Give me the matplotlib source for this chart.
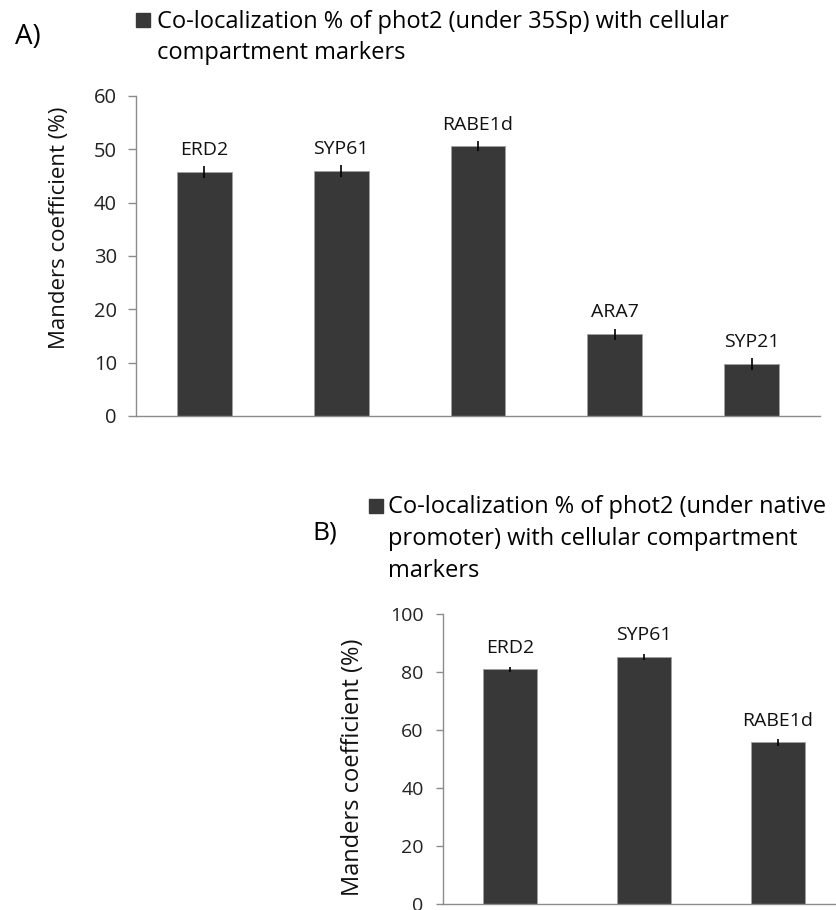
import numpy as np
import matplotlib.pyplot as plt
from matplotlib.patches import Rectangle

# --- data ---
markers_a = ["ERD2", "SYP61", "RABE1d", "ARA7", "SYP21"]
values_a = [45.7, 45.9, 50.6, 15.3, 9.8]
errors_a = [1.1, 1.1, 1.0, 1.1, 1.1]

markers_b = ["ERD2", "SYP61", "RABE1d"]
values_b = [80.9, 85.3, 55.7]
errors_b = [0.9, 1.0, 1.15]

legend_a = ["Co-localization % of phot2 (under 35Sp) with cellular",
            "compartment markers"]
legend_b = ["Co-localization % of phot2 (under native",
            "promoter) with cellular compartment",
            "markers"]

bar_color = "#383838"
axis_color = "#8c8c8c"
W, H = 836, 910

plt.rcParams["font.family"] = ["Open Sans", "DejaVu Sans"]

fig = plt.figure(figsize=(W / 100, H / 100), dpi=100)


def px(x, y):
    # pixel position (from top-left) -> figure fraction
    return x / W, 1 - y / H


def draw_panel(ax, labels, vals, errs, ymax, step, tick_fs, lab_fs, lab_off,
               ylab_fs, ylab_xy, tick_len, tick_pad):
    x = np.arange(len(labels))
    ax.bar(x, vals, width=0.4, color=bar_color, edgecolor="#a0a0a0", linewidth=0.6, zorder=2)
    ax.errorbar(x, vals, yerr=errs, fmt="none", ecolor="black", elinewidth=1.2, capsize=0, zorder=3)
    for xi, v, e, lab in zip(x, vals, errs, labels):
        ax.annotate(lab, (xi, v + e), xytext=(0, lab_off), textcoords="offset points",
                    ha="center", va="baseline", fontsize=lab_fs, color="#111111")
    ax.set_xlim(-0.5, len(labels) - 0.5)
    ax.set_ylim(0, ymax)
    ax.set_yticks(np.arange(0, ymax + 1, step))
    ax.set_xticks([])
    for s in ["top", "right"]:
        ax.spines[s].set_visible(False)
    for s in ["left", "bottom"]:
        ax.spines[s].set_color(axis_color)
        ax.spines[s].set_linewidth(1.0)
    ax.tick_params(axis="y", direction="out", length=tick_len, width=1.0, color=axis_color,
                   labelsize=tick_fs, labelcolor="#222222", pad=tick_pad)
    ax.set_ylabel("Manders coefficient (%)", fontsize=ylab_fs, color="#111111")
    ax.yaxis.set_label_coords(*ylab_xy)
    ax.patch.set_visible(False)


# --- panel A ---
ax_a = fig.add_axes([136 / W, 1 - 416 / H, 684 / W, 320 / H])
draw_panel(ax_a, markers_a, values_a, errors_a, 60, 10, 14.5, 14, 8,
           16, (-0.0965, 0.5875), 5.8, 8)

fig.text(*px(28, 37), "A)", fontsize=20, ha="center", va="center")
fig.patches.append(Rectangle(px(136, 27), 14 / W, 14 / H,
                             transform=fig.transFigure, color=bar_color))
for i, line in enumerate(legend_a):
    fig.text(*px(157, 28 + 31 * i), line, fontsize=17, ha="left", va="baseline")

# --- panel B ---
ax_b = fig.add_axes([443 / W, 1 - 904 / H, 402 / W, 290 / H])
draw_panel(ax_b, markers_b, values_b, errors_b, 100, 20, 14, 14, 9.6,
           17, (-0.194, 0.472), 5, 9)

fig.text(*px(325, 533), "B)", fontsize=19, ha="center", va="center")
fig.patches.append(Rectangle(px(369, 513), 14 / W, 14 / H,
                             transform=fig.transFigure, color=bar_color))
for i, line in enumerate(legend_b):
    fig.text(*px(388, 513 + 32 * i), line, fontsize=17, ha="left", va="baseline")

fig.savefig("out.png", dpi=100)
plt.close(fig)
